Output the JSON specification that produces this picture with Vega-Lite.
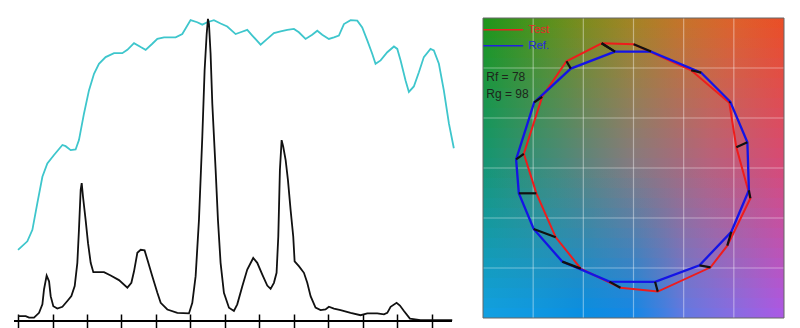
{
  "$schema": "https://vega.github.io/schema/vega-lite/v6.json",
  "padding": {"left": 13, "top": 15, "right": 5, "bottom": 5},
  "background": "white",
  "bounds": "flush",
  "spacing": 31,
  "config": {"view": {"stroke": null}},
  "datasets": {
    "spectra": [
      {"curve": "A", "nm": 380.0, "value": 23.5}, {"curve": "A", "nm": 388.1, "value": 26.3}, {"curve": "A", "nm": 392.5, "value": 30.1},
      {"curve": "A", "nm": 396.8, "value": 38.9}, {"curve": "A", "nm": 401.2, "value": 47.6}, {"curve": "A", "nm": 405.5, "value": 52.0},
      {"curve": "A", "nm": 411.3, "value": 54.8}, {"curve": "A", "nm": 418.6, "value": 58.1}, {"curve": "A", "nm": 421.4, "value": 57.7},
      {"curve": "A", "nm": 425.8, "value": 56.4}, {"curve": "A", "nm": 430.1, "value": 56.6}, {"curve": "A", "nm": 433.0, "value": 59.7},
      {"curve": "A", "nm": 437.4, "value": 68.5}, {"curve": "A", "nm": 441.7, "value": 76.1}, {"curve": "A", "nm": 446.1, "value": 81.6},
      {"curve": "A", "nm": 450.4, "value": 84.9}, {"curve": "A", "nm": 456.2, "value": 87.1}, {"curve": "A", "nm": 463.5, "value": 88.4},
      {"curve": "A", "nm": 470.7, "value": 88.4}, {"curve": "A", "nm": 475.1, "value": 89.5}, {"curve": "A", "nm": 480.9, "value": 91.7},
      {"curve": "A", "nm": 486.7, "value": 90.4}, {"curve": "A", "nm": 491.0, "value": 89.5}, {"curve": "A", "nm": 496.8, "value": 91.5},
      {"curve": "A", "nm": 501.2, "value": 93.1}, {"curve": "A", "nm": 507.0, "value": 93.6}, {"curve": "A", "nm": 517.1, "value": 93.6},
      {"curve": "A", "nm": 522.9, "value": 94.7}, {"curve": "A", "nm": 530.1, "value": 99.3}, {"curve": "A", "nm": 535.9, "value": 98.6},
      {"curve": "A", "nm": 540.3, "value": 97.8}, {"curve": "A", "nm": 544.6, "value": 98.6}, {"curve": "A", "nm": 550.4, "value": 99.3},
      {"curve": "A", "nm": 556.2, "value": 98.2}, {"curve": "A", "nm": 562.0, "value": 97.2}, {"curve": "A", "nm": 569.3, "value": 94.7},
      {"curve": "A", "nm": 573.6, "value": 95.3}, {"curve": "A", "nm": 579.4, "value": 96.1}, {"curve": "A", "nm": 583.8, "value": 94.2},
      {"curve": "A", "nm": 591.0, "value": 91.2}, {"curve": "A", "nm": 596.8, "value": 93.1}, {"curve": "A", "nm": 602.6, "value": 95.0},
      {"curve": "A", "nm": 608.4, "value": 95.6}, {"curve": "A", "nm": 614.2, "value": 96.1}, {"curve": "A", "nm": 620.0, "value": 96.4},
      {"curve": "A", "nm": 624.3, "value": 95.3}, {"curve": "A", "nm": 630.1, "value": 93.1}, {"curve": "A", "nm": 635.9, "value": 94.5},
      {"curve": "A", "nm": 640.3, "value": 95.8}, {"curve": "A", "nm": 644.6, "value": 94.5}, {"curve": "A", "nm": 650.4, "value": 93.1},
      {"curve": "A", "nm": 654.8, "value": 93.6}, {"curve": "A", "nm": 659.1, "value": 94.2}, {"curve": "A", "nm": 663.5, "value": 98.0},
      {"curve": "A", "nm": 669.3, "value": 99.3}, {"curve": "A", "nm": 675.1, "value": 99.1}, {"curve": "A", "nm": 679.4, "value": 96.9},
      {"curve": "A", "nm": 683.8, "value": 92.6}, {"curve": "A", "nm": 688.1, "value": 88.2}, {"curve": "A", "nm": 691.0, "value": 84.9},
      {"curve": "A", "nm": 695.4, "value": 86.0}, {"curve": "A", "nm": 701.2, "value": 88.7}, {"curve": "A", "nm": 707.0, "value": 90.6},
      {"curve": "A", "nm": 709.9, "value": 89.8}, {"curve": "A", "nm": 712.8, "value": 86.0}, {"curve": "A", "nm": 717.1, "value": 79.4},
      {"curve": "A", "nm": 720.0, "value": 75.6}, {"curve": "A", "nm": 724.3, "value": 77.4}, {"curve": "A", "nm": 728.7, "value": 82.1},
      {"curve": "A", "nm": 733.0, "value": 87.1}, {"curve": "A", "nm": 738.8, "value": 89.8}, {"curve": "A", "nm": 741.7, "value": 89.3},
      {"curve": "A", "nm": 746.1, "value": 84.9}, {"curve": "A", "nm": 750.4, "value": 76.1}, {"curve": "A", "nm": 754.8, "value": 65.2},
      {"curve": "A", "nm": 759.1, "value": 57.0},
      {"curve": "B", "nm": 380.0, "value": 1.6}, {"curve": "B", "nm": 386.7, "value": 1.6}, {"curve": "B", "nm": 389.6, "value": 1.1},
      {"curve": "B", "nm": 393.9, "value": 1.1}, {"curve": "B", "nm": 398.3, "value": 2.7}, {"curve": "B", "nm": 401.2, "value": 5.5},
      {"curve": "B", "nm": 402.6, "value": 10.4}, {"curve": "B", "nm": 404.9, "value": 15.0}, {"curve": "B", "nm": 407.0, "value": 13.1},
      {"curve": "B", "nm": 408.4, "value": 8.2}, {"curve": "B", "nm": 410.7, "value": 4.9}, {"curve": "B", "nm": 414.2, "value": 4.1},
      {"curve": "B", "nm": 418.6, "value": 4.7}, {"curve": "B", "nm": 422.9, "value": 6.6}, {"curve": "B", "nm": 426.4, "value": 8.2},
      {"curve": "B", "nm": 429.3, "value": 11.5}, {"curve": "B", "nm": 431.6, "value": 19.2}, {"curve": "B", "nm": 433.0, "value": 30.1},
      {"curve": "B", "nm": 434.5, "value": 43.3}, {"curve": "B", "nm": 435.4, "value": 45.5}, {"curve": "B", "nm": 436.5, "value": 41.1},
      {"curve": "B", "nm": 438.8, "value": 33.4}, {"curve": "B", "nm": 440.9, "value": 25.7}, {"curve": "B", "nm": 443.2, "value": 19.2},
      {"curve": "B", "nm": 445.5, "value": 16.1}, {"curve": "B", "nm": 454.8, "value": 16.1}, {"curve": "B", "nm": 460.6, "value": 15.0},
      {"curve": "B", "nm": 467.8, "value": 13.5}, {"curve": "B", "nm": 475.1, "value": 11.0}, {"curve": "B", "nm": 478.6, "value": 12.6},
      {"curve": "B", "nm": 480.9, "value": 16.4}, {"curve": "B", "nm": 483.8, "value": 22.5}, {"curve": "B", "nm": 486.7, "value": 23.5},
      {"curve": "B", "nm": 490.1, "value": 23.3}, {"curve": "B", "nm": 492.5, "value": 20.3}, {"curve": "B", "nm": 496.8, "value": 14.8},
      {"curve": "B", "nm": 501.2, "value": 9.3}, {"curve": "B", "nm": 504.1, "value": 6.0}, {"curve": "B", "nm": 509.9, "value": 3.8},
      {"curve": "B", "nm": 518.6, "value": 2.7}, {"curve": "B", "nm": 528.7, "value": 2.5}, {"curve": "B", "nm": 531.6, "value": 6.0},
      {"curve": "B", "nm": 534.5, "value": 14.8}, {"curve": "B", "nm": 537.4, "value": 33.4}, {"curve": "B", "nm": 540.3, "value": 60.8},
      {"curve": "B", "nm": 542.3, "value": 82.7}, {"curve": "B", "nm": 544.1, "value": 94.7}, {"curve": "B", "nm": 545.2, "value": 99.7},
      {"curve": "B", "nm": 546.1, "value": 98.0}, {"curve": "B", "nm": 547.5, "value": 88.2}, {"curve": "B", "nm": 549.0, "value": 71.7},
      {"curve": "B", "nm": 551.9, "value": 49.8}, {"curve": "B", "nm": 553.9, "value": 33.4}, {"curve": "B", "nm": 556.2, "value": 19.2},
      {"curve": "B", "nm": 559.1, "value": 9.3}, {"curve": "B", "nm": 563.5, "value": 4.4}, {"curve": "B", "nm": 567.8, "value": 3.3},
      {"curve": "B", "nm": 570.7, "value": 5.5}, {"curve": "B", "nm": 575.1, "value": 11.5}, {"curve": "B", "nm": 579.4, "value": 17.0},
      {"curve": "B", "nm": 584.6, "value": 20.8}, {"curve": "B", "nm": 588.1, "value": 19.2}, {"curve": "B", "nm": 592.5, "value": 15.3},
      {"curve": "B", "nm": 596.8, "value": 11.7}, {"curve": "B", "nm": 599.7, "value": 10.6}, {"curve": "B", "nm": 602.6, "value": 12.6},
      {"curve": "B", "nm": 604.9, "value": 15.9}, {"curve": "B", "nm": 606.4, "value": 27.9}, {"curve": "B", "nm": 607.8, "value": 49.8},
      {"curve": "B", "nm": 609.3, "value": 59.7}, {"curve": "B", "nm": 610.7, "value": 57.5}, {"curve": "B", "nm": 612.8, "value": 53.1},
      {"curve": "B", "nm": 614.8, "value": 46.5}, {"curve": "B", "nm": 617.1, "value": 36.7}, {"curve": "B", "nm": 619.4, "value": 27.9},
      {"curve": "B", "nm": 620.6, "value": 19.7}, {"curve": "B", "nm": 624.3, "value": 18.1}, {"curve": "B", "nm": 628.7, "value": 15.9},
      {"curve": "B", "nm": 631.6, "value": 12.6}, {"curve": "B", "nm": 634.5, "value": 8.2}, {"curve": "B", "nm": 638.8, "value": 4.4},
      {"curve": "B", "nm": 643.2, "value": 3.6}, {"curve": "B", "nm": 647.5, "value": 3.8}, {"curve": "B", "nm": 650.4, "value": 4.7},
      {"curve": "B", "nm": 654.8, "value": 4.1}, {"curve": "B", "nm": 660.6, "value": 3.6}, {"curve": "B", "nm": 669.3, "value": 2.7},
      {"curve": "B", "nm": 678.0, "value": 1.9}, {"curve": "B", "nm": 683.8, "value": 2.5}, {"curve": "B", "nm": 692.5, "value": 2.5},
      {"curve": "B", "nm": 698.3, "value": 2.2}, {"curve": "B", "nm": 701.2, "value": 2.7}, {"curve": "B", "nm": 704.1, "value": 4.7},
      {"curve": "B", "nm": 709.3, "value": 6.0}, {"curve": "B", "nm": 712.2, "value": 5.1}, {"curve": "B", "nm": 715.7, "value": 3.3},
      {"curve": "B", "nm": 720.9, "value": 0.8}, {"curve": "B", "nm": 730.1, "value": 0.3}, {"curve": "B", "nm": 757.7, "value": 0.3}
    ],
    "cvg": [
      {"i": 1, "rx": -0.185, "ry": 1.164, "tx": -0.318, "ty": 1.247},
      {"i": 2, "rx": 0.175, "ry": 1.164, "tx": 0.002, "ty": 1.237},
      {"i": 3, "rx": 0.675, "ry": 0.954, "tx": 0.575, "ty": 0.977},
      {"i": 4, "rx": 0.965, "ry": 0.662, "tx": 0.955, "ty": 0.652},
      {"i": 5, "rx": 1.135, "ry": 0.257, "tx": 1.025, "ty": 0.207},
      {"i": 6, "rx": 1.15, "ry": -0.223, "tx": 1.165, "ty": -0.303},
      {"i": 7, "rx": 0.975, "ry": -0.638, "tx": 0.935, "ty": -0.776},
      {"i": 8, "rx": 0.658, "ry": -0.973, "tx": 0.768, "ty": -0.993},
      {"i": 9, "rx": 0.215, "ry": -1.138, "tx": 0.242, "ty": -1.236},
      {"i": 10, "rx": -0.24, "ry": -1.136, "tx": -0.13, "ty": -1.198},
      {"i": 11, "rx": -0.71, "ry": -0.936, "tx": -0.525, "ty": -1.006},
      {"i": 12, "rx": -0.995, "ry": -0.61, "tx": -0.775, "ty": -0.693},
      {"i": 13, "rx": -1.143, "ry": -0.253, "tx": -0.968, "ty": -0.253},
      {"i": 14, "rx": -1.17, "ry": 0.087, "tx": -1.093, "ty": 0.142},
      {"i": 15, "rx": -0.99, "ry": 0.657, "tx": -0.91, "ty": 0.712},
      {"i": 16, "rx": -0.625, "ry": 0.994, "tx": -0.668, "ty": 1.067},
      {"i": 17, "rx": -0.185, "ry": 1.164, "tx": -0.318, "ty": 1.247}
    ],
    "strips": [
      {"top": 1.5, "bot": 1.4}, {"top": 1.4, "bot": 1.3}, {"top": 1.3, "bot": 1.2}, {"top": 1.2, "bot": 1.1}, {"top": 1.1, "bot": 1.0},
      {"top": 1.0, "bot": 0.9}, {"top": 0.9, "bot": 0.8}, {"top": 0.8, "bot": 0.7}, {"top": 0.7, "bot": 0.6}, {"top": 0.6, "bot": 0.5},
      {"top": 0.5, "bot": 0.4}, {"top": 0.4, "bot": 0.3}, {"top": 0.3, "bot": 0.2}, {"top": 0.2, "bot": 0.1}, {"top": 0.1, "bot": 0.0},
      {"top": 0.0, "bot": -0.1}, {"top": -0.1, "bot": -0.2}, {"top": -0.2, "bot": -0.3}, {"top": -0.3, "bot": -0.4}, {"top": -0.4, "bot": -0.5},
      {"top": -0.5, "bot": -0.6}, {"top": -0.6, "bot": -0.7}, {"top": -0.7, "bot": -0.8}, {"top": -0.8, "bot": -0.9}, {"top": -0.9, "bot": -1.0},
      {"top": -1.0, "bot": -1.1}, {"top": -1.1, "bot": -1.2}, {"top": -1.2, "bot": -1.3}, {"top": -1.3, "bot": -1.4}, {"top": -1.4, "bot": -1.5}
    ],
    "grid": [{"g": -1}, {"g": -0.5}, {"g": 0}, {"g": 0.5}, {"g": 1}]
  },
  "hconcat": [
    {
      "width": 438,
      "height": 303,
      "layer": [
        {
          "data": {"name": "spectra"},
          "mark": {"type": "line", "strokeWidth": 1.8},
          "encoding": {
            "x": {"field": "nm", "type": "quantitative", "scale": {"domain": [376.5, 757.5], "nice": false, "zero": false},
                  "axis": {"values": [380, 410, 440, 470, 500, 530, 560, 590, 620, 650, 680, 710, 740], "labels": false, "domain": false, "grid": false, "ticks": true, "tickSize": 14, "tickWidth": 1.5, "tickColor": "#000000", "offset": -7, "title": null}},
            "y": {"field": "value", "type": "quantitative", "scale": {"domain": [0, 100], "nice": false}, "axis": null},
            "color": {"field": "curve", "type": "nominal", "scale": {"domain": ["A", "B"], "range": ["#3ec6cc", "#111111"]}, "legend": null}
          }
        },
        {
          "data": {"values": [{}]},
          "mark": {"type": "rule", "color": "#000000", "strokeWidth": 2},
          "encoding": {"y": {"datum": 0, "type": "quantitative", "scale": {"domain": [0, 100], "nice": false}, "axis": null}}
        }
      ]
    },
    {
      "width": 301,
      "height": 300,
      "resolve": {"scale": {"opacity": "independent"}},
      "layer": [
        {
          "data": {"values": [{}]},
          "mark": {"type": "rect", "fill": {"gradient": "linear", "x1": 0, "y1": 0, "x2": 1, "y2": 0, "stops": [
            {"offset": 0, "color": "rgb(30,150,22)"}, {"offset": 0.17, "color": "rgb(78,147,22)"}, {"offset": 0.33, "color": "rgb(125,140,25)"},
            {"offset": 0.5, "color": "rgb(165,132,32)"}, {"offset": 0.67, "color": "rgb(200,115,38)"}, {"offset": 0.83, "color": "rgb(222,98,40)"},
            {"offset": 1, "color": "rgb(235,78,35)"}]}},
          "encoding": {
            "x": {"datum": -1.5, "type": "quantitative", "scale": {"domain": [-1.5, 1.5], "nice": false, "zero": false}, "axis": null},
            "x2": {"datum": 1.5},
            "y": {"datum": -1.5, "type": "quantitative", "scale": {"domain": [-1.5, 1.5], "nice": false, "zero": false}, "axis": null},
            "y2": {"datum": 1.5}
          }
        },
        {
          "data": {"name": "strips"},
          "mark": {"type": "rect", "fill": {"gradient": "linear", "x1": 0, "y1": 0, "x2": 1, "y2": 0, "stops": [
            {"offset": 0, "color": "rgb(20,150,115)"}, {"offset": 0.25, "color": "rgb(72,138,122)"}, {"offset": 0.5, "color": "rgb(134,122,128)"},
            {"offset": 0.75, "color": "rgb(182,98,125)"}, {"offset": 1, "color": "rgb(215,74,118)"}]}},
          "encoding": {
            "x": {"datum": -1.5, "type": "quantitative", "scale": {"domain": [-1.5, 1.5], "nice": false, "zero": false}, "axis": null},
            "x2": {"datum": 1.5},
            "y": {"field": "top", "type": "quantitative", "scale": {"domain": [-1.5, 1.5], "nice": false, "zero": false}, "axis": null},
            "y2": {"field": "bot"},
            "opacity": {"field": "bot", "type": "quantitative", "scale": {"domain": [1.5, 0], "range": [0, 1], "clamp": true}, "legend": null}
          }
        },
        {
          "data": {"name": "strips"},
          "mark": {"type": "rect", "fill": {"gradient": "linear", "x1": 0, "y1": 0, "x2": 1, "y2": 0, "stops": [
            {"offset": 0, "color": "rgb(18,160,225)"}, {"offset": 0.17, "color": "rgb(15,152,225)"}, {"offset": 0.33, "color": "rgb(10,142,225)"},
            {"offset": 0.5, "color": "rgb(22,135,228)"}, {"offset": 0.6, "color": "rgb(65,127,225)"}, {"offset": 0.67, "color": "rgb(100,120,225)"},
            {"offset": 0.83, "color": "rgb(135,108,225)"}, {"offset": 1, "color": "rgb(172,88,228)"}]}},
          "encoding": {
            "x": {"datum": -1.5, "type": "quantitative", "scale": {"domain": [-1.5, 1.5], "nice": false, "zero": false}, "axis": null},
            "x2": {"datum": 1.5},
            "y": {"field": "top", "type": "quantitative", "scale": {"domain": [-1.5, 1.5], "nice": false, "zero": false}, "axis": null},
            "y2": {"field": "bot"},
            "opacity": {"field": "bot", "type": "quantitative", "scale": {"domain": [0, -1.5], "range": [0, 1], "clamp": true}, "legend": null}
          }
        },
        {
          "data": {"name": "grid"},
          "mark": {"type": "rule", "color": "#ffffff", "opacity": 0.4, "strokeWidth": 1.2},
          "encoding": {"x": {"field": "g", "type": "quantitative", "scale": {"domain": [-1.5, 1.5], "nice": false, "zero": false}, "axis": null}}
        },
        {
          "data": {"name": "grid"},
          "mark": {"type": "rule", "color": "#ffffff", "opacity": 0.4, "strokeWidth": 1.2},
          "encoding": {"y": {"field": "g", "type": "quantitative", "scale": {"domain": [-1.5, 1.5], "nice": false, "zero": false}, "axis": null}}
        },
        {
          "data": {"name": "cvg"},
          "mark": {"type": "line", "color": "#ee1c1c", "strokeWidth": 2},
          "encoding": {
            "x": {"field": "tx", "type": "quantitative", "scale": {"domain": [-1.5, 1.5], "nice": false, "zero": false}, "axis": null},
            "y": {"field": "ty", "type": "quantitative", "scale": {"domain": [-1.5, 1.5], "nice": false, "zero": false}, "axis": null},
            "order": {"field": "i", "type": "quantitative"}
          }
        },
        {
          "data": {"name": "cvg"},
          "mark": {"type": "line", "color": "#1414e6", "strokeWidth": 2.3},
          "encoding": {
            "x": {"field": "rx", "type": "quantitative", "scale": {"domain": [-1.5, 1.5], "nice": false, "zero": false}, "axis": null},
            "y": {"field": "ry", "type": "quantitative", "scale": {"domain": [-1.5, 1.5], "nice": false, "zero": false}, "axis": null},
            "order": {"field": "i", "type": "quantitative"}
          }
        },
        {
          "data": {"name": "cvg"},
          "mark": {"type": "rule", "color": "#111111", "strokeWidth": 2.2},
          "encoding": {
            "x": {"field": "rx", "type": "quantitative", "scale": {"domain": [-1.5, 1.5], "nice": false, "zero": false}, "axis": null},
            "y": {"field": "ry", "type": "quantitative", "scale": {"domain": [-1.5, 1.5], "nice": false, "zero": false}, "axis": null},
            "x2": {"field": "tx"},
            "y2": {"field": "ty"}
          }
        },
        {
          "data": {"values": [{}]},
          "mark": {"type": "rule", "color": "#e82020", "strokeWidth": 1.5},
          "encoding": {
            "x": {"datum": -1.5, "type": "quantitative", "scale": {"domain": [-1.5, 1.5], "nice": false, "zero": false}, "axis": null},
            "x2": {"datum": -1.1},
            "y": {"datum": 1.383, "type": "quantitative", "scale": {"domain": [-1.5, 1.5], "nice": false, "zero": false}, "axis": null}
          }
        },
        {
          "data": {"values": [{}]},
          "mark": {"type": "rule", "color": "#2020e0", "strokeWidth": 1.5},
          "encoding": {
            "x": {"datum": -1.5, "type": "quantitative", "scale": {"domain": [-1.5, 1.5], "nice": false, "zero": false}, "axis": null},
            "x2": {"datum": -1.1},
            "y": {"datum": 1.223, "type": "quantitative", "scale": {"domain": [-1.5, 1.5], "nice": false, "zero": false}, "axis": null}
          }
        },
        {
          "data": {"values": [{}]},
          "mark": {"type": "text", "text": "Test", "color": "#e82828", "font": "Liberation Sans", "fontSize": 11.5, "align": "left", "baseline": "middle"},
          "encoding": {
            "x": {"datum": -1.05, "type": "quantitative", "scale": {"domain": [-1.5, 1.5], "nice": false, "zero": false}, "axis": null},
            "y": {"datum": 1.383, "type": "quantitative", "scale": {"domain": [-1.5, 1.5], "nice": false, "zero": false}, "axis": null}
          }
        },
        {
          "data": {"values": [{}]},
          "mark": {"type": "text", "text": "Ref.", "color": "#2828e0", "font": "Liberation Sans", "fontSize": 11.5, "align": "left", "baseline": "middle"},
          "encoding": {
            "x": {"datum": -1.05, "type": "quantitative", "scale": {"domain": [-1.5, 1.5], "nice": false, "zero": false}, "axis": null},
            "y": {"datum": 1.223, "type": "quantitative", "scale": {"domain": [-1.5, 1.5], "nice": false, "zero": false}, "axis": null}
          }
        },
        {
          "data": {"values": [{}]},
          "mark": {"type": "text", "text": "Rf = 78", "color": "#1c261c", "font": "Liberation Sans", "fontSize": 12, "align": "left", "baseline": "middle"},
          "encoding": {
            "x": {"datum": -1.468, "type": "quantitative", "scale": {"domain": [-1.5, 1.5], "nice": false, "zero": false}, "axis": null},
            "y": {"datum": 0.913, "type": "quantitative", "scale": {"domain": [-1.5, 1.5], "nice": false, "zero": false}, "axis": null}
          }
        },
        {
          "data": {"values": [{}]},
          "mark": {"type": "text", "text": "Rg = 98", "color": "#1c261c", "font": "Liberation Sans", "fontSize": 12, "align": "left", "baseline": "middle"},
          "encoding": {
            "x": {"datum": -1.468, "type": "quantitative", "scale": {"domain": [-1.5, 1.5], "nice": false, "zero": false}, "axis": null},
            "y": {"datum": 0.745, "type": "quantitative", "scale": {"domain": [-1.5, 1.5], "nice": false, "zero": false}, "axis": null}
          }
        },
        {
          "data": {"values": [{}]},
          "mark": {"type": "rect", "filled": false, "stroke": "#666666", "strokeWidth": 1},
          "encoding": {
            "x": {"datum": -1.5, "type": "quantitative", "scale": {"domain": [-1.5, 1.5], "nice": false, "zero": false}, "axis": null},
            "x2": {"datum": 1.5},
            "y": {"datum": -1.5, "type": "quantitative", "scale": {"domain": [-1.5, 1.5], "nice": false, "zero": false}, "axis": null},
            "y2": {"datum": 1.5}
          }
        }
      ]
    }
  ]
}
